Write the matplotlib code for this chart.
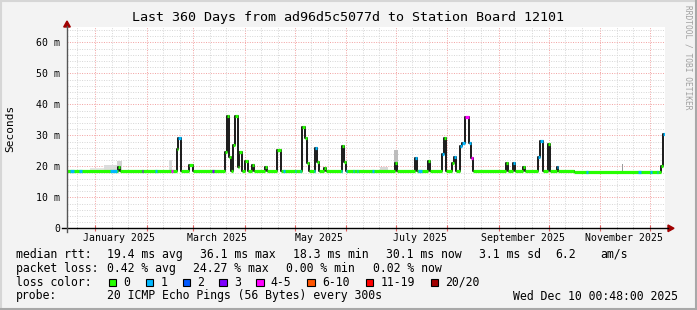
import datetime as dt
import matplotlib.pyplot as plt
import matplotlib.dates as mdates
from matplotlib.ticker import MultipleLocator, FuncFormatter
from matplotlib.lines import Line2D
from matplotlib.patches import Polygon

plt.rcParams['font.family'] = ['DejaVu Sans Mono']

W, H = 697, 310
start = dt.datetime(2024, 12, 15, 0, 48)
end = dt.datetime(2025, 12, 10, 0, 48)

# median baseline: (day_from, day_to, ms)
baseline = [(0.0, 305.4, 18.6), (305.4, 360.0, 18.3)]

# median excursions: (day_from, day_to, ms, loss class)
spikes = [
    (30.7, 31.9, 19.9, 0),
    (66.4, 66.8, 25.5, 0), (66.8, 68.5, 29.2, 1),
    (73.3, 75.7, 20.6, 0),
    (95.1, 96.1, 24.5, 0), (96.1, 97.5, 36.3, 0), (97.5, 98.6, 22.9, 0),
    (99.8, 101.1, 26.9, 0), (101.1, 102.8, 36.3, 0), (102.8, 103.6, 19.9, 0),
    (103.6, 105.5, 24.7, 0),
    (107.2, 109.2, 21.7, 0),
    (111.6, 112.6, 20.4, 0),
    (119.2, 120.6, 19.8, 0),
    (126.6, 128.7, 25.2, 0),
    (141.7, 143.3, 32.8, 0), (143.3, 144.7, 29.0, 0), (144.7, 145.7, 21.0, 0),
    (149.3, 150.7, 25.8, 1), (150.7, 151.7, 21.5, 0),
    (154.7, 155.7, 19.4, 0),
    (165.6, 166.9, 26.6, 0), (166.9, 167.8, 21.5, 0),
    (197.7, 198.8, 21.2, 0),
    (209.7, 210.9, 22.6, 1),
    (217.5, 218.7, 21.8, 0),
    (226.0, 227.0, 24.1, 1), (227.0, 228.0, 29.0, 0),
    (232.0, 232.8, 21.0, 0), (232.8, 234.0, 23.1, 1),
    (236.8, 238.0, 26.6, 1), (238.0, 239.6, 27.4, 1), (239.6, 242.0, 36.0, 4),
    (242.0, 243.4, 27.4, 1), (243.4, 244.4, 22.6, 4),
    (264.1, 265.5, 21.0, 0),
    (268.3, 269.7, 21.2, 1),
    (274.7, 275.9, 19.9, 0),
    (283.7, 284.9, 23.1, 1), (284.9, 286.4, 28.3, 1),
    (289.8, 291.0, 27.2, 0),
    (295.0, 295.8, 19.9, 1),
    (357.6, 358.8, 20.0, 0), (358.8, 360.0, 30.3, 1),
]

# loss colour on the baseline: (day_from, day_to, loss class)
loss_patches = [
    (2.0, 4.2, 1), (7.0, 9.0, 1), (26.0, 30.0, 1), (45.0, 46.0, 3),
    (53.2, 54.2, 1), (62.6, 63.6, 4), (87.4, 88.2, 3), (130.3, 131.0, 1),
    (137.0, 137.7, 1), (140.0, 140.7, 1), (148.6, 149.3, 1), (165.0, 165.6, 1),
    (168.0, 168.8, 1), (172.0, 172.8, 1), (174.6, 175.4, 1), (183.8, 184.6, 1),
    (211.5, 214.0, 1), (312.6, 313.4, 1), (343.6, 345.6, 1), (351.2, 352.0, 1),
    (355.2, 356.0, 1),
]

# smoke: (day_from, day_to, top ms, shade)
smoke = [
    (14.0, 22.0, 19.6, '#e6e6e6'), (22.0, 30.0, 20.4, '#dcdcdc'),
    (30.0, 33.0, 21.8, '#d2d2d2'), (61.5, 63.5, 22.0, '#dadada'),
    (188.5, 193.5, 19.8, '#d8d8d8'), (197.0, 199.5, 25.3, '#bdbdbd'),
    (334.2, 334.8, 20.8, '#9a9a9a'),
]

loss_labels = ['0', '1', '2', '3', '4-5', '6-10', '11-19', '20/20']
loss_colors = ['#26ff00', '#00b8ff', '#0059ff', '#7e00ff', '#ff00ff',
               '#ff5500', '#ff0000', '#a10000']

x_labels = [(2025, 1, 'January 2025'), (2025, 3, 'March 2025'), (2025, 5, 'May 2025'),
            (2025, 7, 'July 2025'), (2025, 9, 'September 2025'), (2025, 11, 'November 2025')]

t0 = mdates.date2num(start)


def base_at(d):
    for a, b, v in baseline:
        if a <= d < b:
            return v
    return baseline[-1][2]


# full median as segments
segs = []
cur = 0.0
for d0, d1, v, c in sorted(spikes):
    if d0 > cur:
        for a, b, bv in baseline:
            lo, hi = max(a, cur), min(b, d0)
            if hi > lo:
                segs.append((lo, hi, bv, 0))
    segs.append((d0, d1, v, c))
    cur = d1
for a, b, bv in baseline:
    lo, hi = max(a, cur), b
    if hi > lo:
        segs.append((lo, hi, bv, 0))

fig = plt.figure(figsize=(W / 100, H / 100), dpi=100, facecolor='#f3f3f3')
ax = fig.add_axes([67 / W, 1 - 228.3 / H, 598 / W, 201.3 / H])
ax.set_facecolor('white')

for d0, d1, top, col in smoke:
    ax.fill_between([t0 + d0, t0 + d1], [base_at(d0)] * 2, [top] * 2,
                    color=col, lw=0, zorder=1)

xs = [t0 + s[0] for s in segs] + [t0 + segs[-1][1]]
ys = [s[2] for s in segs] + [segs[-1][2]]
ax.step(xs, ys, where='post', color='#1a1a1a', lw=1.4, zorder=2)
for d0, d1, v, c in segs:
    ax.hlines(v, t0 + d0, t0 + d1, color=loss_colors[c], lw=2.3, zorder=3)
for d0, d1, c in loss_patches:
    ax.hlines(base_at(d0), t0 + d0, t0 + d1, color=loss_colors[c], lw=2.3, zorder=3)

ax.set_xlim(t0, mdates.date2num(end))
ax.set_ylim(0, 65)

ax.xaxis.set_major_locator(mdates.MonthLocator())
ax.xaxis.set_minor_locator(mdates.DayLocator(bymonthday=[11, 21]))
ax.xaxis.set_major_formatter(FuncFormatter(lambda v, p: ''))
ax.yaxis.set_major_locator(MultipleLocator(10))
ax.yaxis.set_minor_locator(MultipleLocator(2))
ax.yaxis.set_major_formatter(FuncFormatter(lambda v, p: '0' if v == 0 else '%d m' % v))

ax.grid(which='minor', color='#d6d6d6', ls=(0, (1, 1.5)), lw=0.7, zorder=0)
ax.grid(which='major', color='#f2a0a0', ls=(0, (1, 1.5)), lw=0.7, zorder=0)
ax.set_axisbelow(True)
for sp in ax.spines.values():
    sp.set_visible(False)
ax.tick_params(axis='y', which='both', length=0, labelsize=7.1, pad=5)
ax.tick_params(axis='x', which='major', length=4, direction='inout', color='#e06060')
ax.tick_params(axis='x', which='minor', length=2, direction='inout', color='#999999')

for yr, mo, lab in x_labels:
    xm = mdates.date2num(dt.datetime(yr, mo, 1)) + 14.5
    ax.text(xm, -0.048, lab, transform=ax.get_xaxis_transform(), ha='center', va='center',
            fontsize=7.1)


def fx(x):
    return x / W


def fy(y):
    return 1 - y / H


# axes lines and arrows
fig.add_artist(Line2D([fx(62), fx(668)], [fy(228.3)] * 2, color='black', lw=1.0))
fig.add_artist(Line2D([fx(67)] * 2, [fy(232), fy(26)], color='#555555', lw=1.0))
fig.add_artist(Polygon([(fx(668), fy(225)), (fx(674), fy(228.3)), (fx(668), fy(231.6))],
                       closed=True, color='#a00000'))
fig.add_artist(Polygon([(fx(63.7), fy(27)), (fx(67), fy(21)), (fx(70.3), fy(27))],
                       closed=True, color='#a00000'))

# frame
fig.add_artist(Line2D([0, 1], [fy(1)] * 2, color='#d6d6d6', lw=1.5))
fig.add_artist(Line2D([fx(1)] * 2, [0, 1], color='#d6d6d6', lw=1.5))
fig.add_artist(Line2D([0, 1], [fy(309)] * 2, color='#a8a8a8', lw=1.5))
fig.add_artist(Line2D([fx(696)] * 2, [0, 1], color='#a8a8a8', lw=1.5))

fig.text(fx(348), fy(18), 'Last 360 Days from ad96d5c5077d to Station Board 12101',
         ha='center', va='center', fontsize=9.6)
fig.text(fx(10), fy(128), 'Seconds', rotation=90, ha='center', va='center', fontsize=8)
fig.text(fx(688), fy(5), 'RRDTOOL / TOBI OETIKER', rotation=270, ha='center', va='top',
         fontsize=5.7, color='#a0a0a0')

fs = 8.3
rows = [
    (254.3, [(16, 'median rtt:'), (107.3, '19.4 ms avg'), (200, '36.1 ms max'),
             (293.3, '18.3 ms min'), (386, '30.1 ms now'), (479.3, '3.1 ms sd'),
             (555, '6.2'), (600, 'am/s')]),
    (268.3, [(16, 'packet loss:'), (107.3, '0.42 % avg'), (193, '24.27 % max'),
             (286, '0.00 % min'), (372.7, '0.02 % now')]),
    (282.3, [(16, 'loss color:')]),
    (296, [(16, 'probe:'), (107.3, '20 ICMP Echo Pings (56 Bytes) every 300s'),
           (513.3, 'Wed Dec 10 00:48:00 2025')]),
]
for y, items in rows:
    for x, s in items:
        fig.text(fx(x), fy(y), s, ha='left', va='center', fontsize=fs)

box_x = [108.7, 145.7, 182.7, 219.3, 256, 307.3, 365.7, 430.7]
for bx, lab, col in zip(box_x, loss_labels, loss_colors):
    fig.add_artist(Polygon([(fx(bx), fy(278.5)), (fx(bx + 7.5), fy(278.5)),
                            (fx(bx + 7.5), fy(286)), (fx(bx), fy(286))],
                           closed=True, facecolor=col, edgecolor='black', lw=0.8))
    fig.text(fx(bx + 14.5), fy(282.3), lab, ha='left', va='center', fontsize=fs)

fig.savefig('out.png', dpi=100, facecolor=fig.get_facecolor())
